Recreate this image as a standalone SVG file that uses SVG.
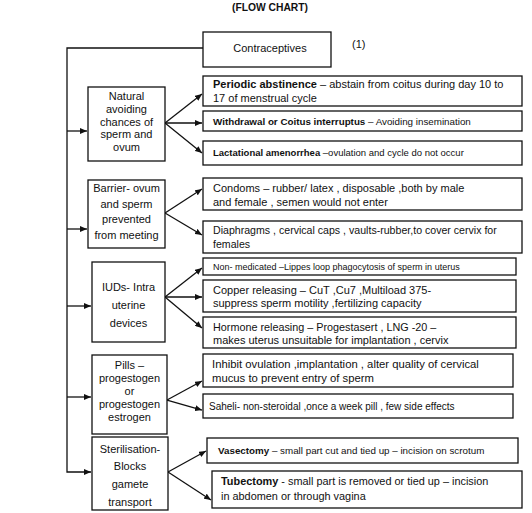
<svg xmlns="http://www.w3.org/2000/svg" width="532" height="513" viewBox="0 0 532 513">
<defs>
<marker id="ah" markerWidth="7" markerHeight="6" refX="7" refY="3" orient="auto" markerUnits="userSpaceOnUse">
<path d="M0,0 L7,3 L0,6 Z" fill="#111"/>
</marker>
<style>
.box{fill:#fff;stroke:#111;stroke-width:1.3}
.ln{fill:none;stroke:#111;stroke-width:1.3}
.t{font-family:"Liberation Sans",Arial,sans-serif;fill:#111}
.c{text-anchor:middle;font-size:11px}
.r{font-size:11px}
.b{font-weight:bold}
</style>
</defs>
<rect width="532" height="513" fill="#fff"/>
<text class="t b" x="270" y="11" font-size="10.3" text-anchor="middle">(FLOW CHART)</text>

<g id="connectors">
<path class="ln" d="M203,48 H67 V472 H91" marker-end="url(#ah)"/>
<path class="ln" d="M67,131 H87" marker-end="url(#ah)"/>
<path class="ln" d="M67,229 H87" marker-end="url(#ah)"/>
<path class="ln" d="M67,306 H91" marker-end="url(#ah)"/>
<path class="ln" d="M67,397 H91" marker-end="url(#ah)"/>
<path class="ln" d="M165,123 L202,94" marker-end="url(#ah)"/>
<path class="ln" d="M165,123 L202,123" marker-end="url(#ah)"/>
<path class="ln" d="M165,123 L202,153" marker-end="url(#ah)"/>
<path class="ln" d="M165,213 L202,189" marker-end="url(#ah)"/>
<path class="ln" d="M165,213 L202,235" marker-end="url(#ah)"/>
<path class="ln" d="M165,297 L202,268" marker-end="url(#ah)"/>
<path class="ln" d="M165,297 L202,297" marker-end="url(#ah)"/>
<path class="ln" d="M165,297 L202,328" marker-end="url(#ah)"/>
<path class="ln" d="M167,400 L202,381" marker-end="url(#ah)"/>
<path class="ln" d="M167,400 L202,410" marker-end="url(#ah)"/>
<path class="ln" d="M168,472 L206,451" marker-end="url(#ah)"/>
<path class="ln" d="M168,472 L211,500" marker-end="url(#ah)"/>
</g>

<g id="contraceptives">
<rect class="box" x="203" y="32" width="128" height="35"/>
<text class="t" x="270" y="52" font-size="11" text-anchor="middle">Contraceptives</text>
<text class="t" x="352" y="48" font-size="11">(1)</text>
</g>

<g id="natural">
<rect class="box" x="88" y="87" width="77" height="74"/>
<text class="t c" x="126.5" y="100">Natural</text>
<text class="t c" x="126.5" y="113">avoiding</text>
<text class="t c" x="126.5" y="125.5">chances of</text>
<text class="t c" x="126.5" y="138">sperm and</text>
<text class="t c" x="126.5" y="150.5">ovum</text>
</g>
<g id="periodic">
<rect class="box" x="203" y="76" width="319" height="30"/>
<text class="t r" x="213" y="88"><tspan class="b">Periodic abstinence</tspan> – abstain from coitus during day 10 to</text>
<text class="t r" x="213" y="101.5">17 of menstrual cycle</text>
</g>
<g id="withdrawal">
<rect class="box" x="203" y="111" width="319" height="20"/>
<text class="t" font-size="9.8" x="213" y="124.5"><tspan class="b">Withdrawal or Coitus interruptus</tspan> – Avoiding insemination</text>
</g>
<g id="lactational">
<rect class="box" x="203" y="141" width="319" height="24"/>
<text class="t" font-size="9.5" x="213" y="156"><tspan class="b">Lactational amenorrhea</tspan> –ovulation and cycle do not occur</text>
</g>

<g id="barrier">
<rect class="box" x="88" y="180" width="77" height="68"/>
<text class="t c" x="126.5" y="192">Barrier- ovum</text>
<text class="t c" x="126.5" y="208">and sperm</text>
<text class="t c" x="126.5" y="223">prevented</text>
<text class="t c" x="126.5" y="239">from meeting</text>
</g>
<g id="condoms">
<rect class="box" x="203" y="178" width="319" height="32"/>
<text class="t r" x="213" y="192">Condoms – rubber/ latex , disposable ,both by male</text>
<text class="t r" x="213" y="206">and female , semen would not enter</text>
</g>
<g id="diaphragms">
<rect class="box" x="203" y="221" width="319" height="32"/>
<text class="t" font-size="10.6" x="213" y="233.5">Diaphragms , cervical caps , vaults-rubber,to cover cervix for</text>
<text class="t" font-size="10.6" x="213" y="248">females</text>
</g>

<g id="iuds">
<rect class="box" x="92" y="262" width="73" height="80"/>
<text class="t c" x="128.5" y="291">IUDs- Intra</text>
<text class="t c" x="128.5" y="309">uterine</text>
<text class="t c" x="128.5" y="327">devices</text>
</g>
<g id="nonmedicated">
<rect class="box" x="203" y="258" width="313" height="17"/>
<text class="t" font-size="9" x="213" y="270">Non- medicated –Lippes loop phagocytosis of sperm in uterus</text>
</g>
<g id="copper">
<rect class="box" x="203" y="280" width="313" height="32"/>
<text class="t r" x="213" y="293.5">Copper releasing – CuT ,Cu7 ,Multiload 375-</text>
<text class="t r" x="213" y="307">suppress sperm motility ,fertilizing capacity</text>
</g>
<g id="hormone">
<rect class="box" x="203" y="317" width="313" height="31"/>
<text class="t" font-size="10.8" x="213" y="330.5">Hormone releasing – Progestasert , LNG -20 –</text>
<text class="t r" x="213" y="344">makes uterus unsuitable for implantation , cervix</text>
</g>

<g id="pills">
<rect class="box" x="92" y="355" width="75" height="79"/>
<text class="t c" x="129.5" y="369">Pills –</text>
<text class="t c" x="129.5" y="382">progestogen</text>
<text class="t c" x="129.5" y="395">or</text>
<text class="t c" x="129.5" y="408">progestogen</text>
<text class="t c" x="129.5" y="421">estrogen</text>
</g>
<g id="inhibit">
<rect class="box" x="203" y="354" width="310" height="33"/>
<text class="t" font-size="11.3" x="212" y="367.5">Inhibit ovulation ,implantation , alter quality of cervical</text>
<text class="t" font-size="11.3" x="212" y="382">mucus to prevent entry of sperm</text>
</g>
<g id="saheli">
<rect class="box" x="203" y="394" width="310" height="24"/>
<text class="t" font-size="10" x="209" y="410">Saheli- non-steroidal ,once a week pill , few side effects</text>
</g>

<g id="sterilisation">
<rect class="box" x="92" y="437" width="76" height="73"/>
<text class="t c" x="130" y="453">Sterilisation-</text>
<text class="t c" x="130" y="470">Blocks</text>
<text class="t c" x="130" y="488">gamete</text>
<text class="t c" x="130" y="506">transport</text>
</g>
<g id="vasectomy">
<rect class="box" x="207" y="438" width="311" height="25"/>
<text class="t" font-size="9.8" x="218" y="453.5"><tspan class="b">Vasectomy</tspan> – small part cut and tied up – incision on scrotum</text>
</g>
<g id="tubectomy">
<rect class="box" x="212" y="471" width="310" height="37"/>
<text class="t" font-size="10.9" x="221" y="485"><tspan class="b">Tubectomy</tspan> - small part is removed or tied up – incision</text>
<text class="t" font-size="10.9" x="221" y="500">in abdomen or through vagina</text>
</g>
</svg>
